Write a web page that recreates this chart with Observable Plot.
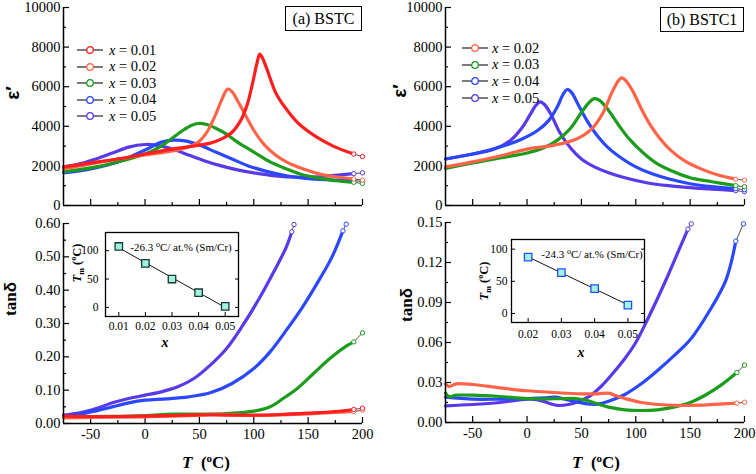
<!DOCTYPE html>
<html><head><meta charset="utf-8">
<script src="https://cdn.jsdelivr.net/npm/d3@7"></script>
<script src="https://cdn.jsdelivr.net/npm/@observablehq/plot@0.6"></script>
<style>
body{margin:0;background:#fff;}
#root{position:relative;width:756px;height:474px;overflow:hidden;font-family:"Liberation Serif","Times New Roman",serif;color:#000;background:#fff;}
.lbl{position:absolute;white-space:nowrap;line-height:1;}
#root svg text{font-family:"Liberation Serif","Times New Roman",serif !important;fill:#000;}
#root svg.mainp text{font-size:14.5px !important;}
#root svg.insp text{font-size:11.5px !important;}
</style></head><body><div id="root"></div>
<script>
// ---------------- DATA ----------------
const xDomain = [-75, 200];
const xMajor = [-50, 0, 50, 100, 150, 200];
const xMinor = [-25, 25, 75, 125, 175];

// (a) BSTC  dielectric constant eps'
const epsA_001 = [[-75,1950],[-50,2150],[-25,2350],[0,2600],[25,2850],[50,3050],[60,3150],[70,3350],[80,3700],[88,4300],[94,5100],[99,6200],[103,7200],[105.5,7650],[108,7450],[112,6900],[121,5600],[133,4650],[143,4050],[158,3450],[173,3000],[192,2600],[200,2470]];
const epsA_002 = [[-75,1850],[-50,2100],[-25,2350],[0,2550],[25,2750],[40,2950],[50,3250],[58,3800],[65,4600],[71,5400],[76,5880],[80,5750],[86,5200],[93,4500],[100,3800],[110,3050],[120,2550],[130,2200],[145,1850],[160,1600],[175,1450],[192,1340],[200,1280]];
const epsA_003 = [[-75,1700],[-50,1900],[-25,2200],[0,2600],[15,3000],[25,3400],[35,3800],[43,4050],[49,4140],[56,4100],[65,3900],[75,3600],[85,3200],[100,2700],[115,2200],[130,1850],[145,1550],[160,1380],[175,1250],[192,1170],[200,1110]];
const epsA_004 = [[-75,1650],[-50,1850],[-25,2200],[0,2800],[15,3200],[26,3300],[38,3250],[50,3050],[65,2700],[80,2350],[95,2000],[110,1750],[130,1500],[150,1350],[170,1300],[192,1270],[200,1200]];
const epsA_005 = [[-75,1950],[-60,2100],[-45,2350],[-30,2650],[-15,2950],[0,3080],[10,3050],[25,2850],[40,2550],[55,2250],[70,2000],[85,1800],[100,1650],[120,1500],[140,1430],[160,1450],[180,1550],[192,1610],[200,1650]];

// (a) BSTC  tan delta
const tanA_001 = [[-75,0.022],[-50,0.021],[-25,0.021],[0,0.022],[25,0.024],[50,0.026],[75,0.025],[100,0.025],[125,0.027],[150,0.031],[175,0.036],[192,0.042],[200,0.046]];
const tanA_002 = [[-75,0.017],[-50,0.018],[-25,0.019],[0,0.020],[25,0.022],[50,0.025],[65,0.028],[80,0.026],[100,0.024],[125,0.026],[150,0.029],[175,0.033],[192,0.036],[200,0.040]];
const tanA_003 = [[-75,0.018],[-50,0.020],[0,0.024],[25,0.028],[50,0.028],[75,0.030],[100,0.037],[115,0.050],[127,0.075],[140,0.105],[155,0.150],[170,0.195],[185,0.232],[192,0.245],[200,0.272]];
const tanA_004 = [[-75,0.022],[-60,0.028],[-45,0.038],[-30,0.050],[-15,0.062],[0,0.070],[20,0.074],[40,0.080],[60,0.092],[80,0.120],[100,0.165],[115,0.215],[130,0.280],[145,0.350],[160,0.430],[172,0.500],[182,0.578],[185,0.598]];
const tanA_005 = [[-75,0.025],[-60,0.032],[-45,0.045],[-30,0.062],[-15,0.075],[0,0.085],[15,0.095],[30,0.110],[45,0.135],[60,0.175],[75,0.225],[90,0.295],[105,0.375],[120,0.465],[130,0.530],[135,0.575],[137,0.597]];

// (b) BSTC1 eps'
const epsB_002 = [[-75,1950],[-50,2200],[-25,2500],[0,2850],[25,3050],[45,3350],[60,3900],[70,4700],[78,5700],[84,6300],[87,6450],[91,6300],[97,5800],[105,4900],[113,4100],[122,3400],[132,2800],[145,2250],[160,1850],[175,1550],[192,1330],[200,1280]];
const epsB_003 = [[-75,1870],[-50,2150],[-25,2400],[0,2650],[15,2900],[28,3300],[40,3900],[50,4700],[57,5200],[62,5400],[67,5300],[75,4800],[85,4000],[95,3300],[108,2600],[120,2100],[135,1700],[150,1400],[170,1200],[192,1000],[200,950]];
const epsB_004 = [[-75,2350],[-50,2600],[-25,2950],[-5,3350],[10,3800],[20,4300],[28,5000],[33,5600],[37,5860],[41,5700],[47,5100],[55,4300],[65,3500],[75,2900],[88,2350],[100,1950],[115,1600],[130,1350],[150,1100],[170,950],[192,850],[200,800]];
const epsB_005 = [[-75,2350],[-50,2600],[-30,2850],[-15,3300],[-5,3900],[3,4600],[8,5050],[12,5230],[16,5100],[22,4600],[30,3700],[40,2900],[50,2350],[62,1950],[75,1650],[90,1400],[110,1150],[130,1000],[150,900],[170,830],[192,750],[200,700]];

// (b) BSTC1 tan delta
const tanB_002 = [[-75,0.029],[-72,0.027],[-65,0.029],[-50,0.0285],[-25,0.026],[0,0.0238],[25,0.0225],[50,0.0215],[65,0.0215],[75,0.022],[82,0.020],[92,0.0175],[105,0.015],[120,0.0135],[140,0.0128],[160,0.013],[180,0.014],[193,0.0145],[200,0.0152]];
const tanB_003 = [[-75,0.022],[-72,0.0195],[-65,0.0205],[-50,0.0205],[-25,0.0195],[0,0.018],[25,0.0178],[45,0.018],[55,0.0165],[65,0.014],[75,0.0115],[90,0.0095],[105,0.009],[120,0.0095],[135,0.0115],[150,0.015],[165,0.021],[180,0.029],[193,0.0375],[200,0.043]];
const tanB_004 = [[-75,0.019],[-50,0.0175],[-25,0.0175],[0,0.0178],[15,0.0185],[27,0.019],[35,0.0175],[45,0.0155],[55,0.014],[65,0.0138],[75,0.016],[90,0.021],[105,0.029],[120,0.039],[135,0.050],[150,0.062],[168,0.084],[183,0.107],[192,0.136],[199,0.149]];
const tanB_005 = [[-75,0.0125],[-50,0.0135],[-25,0.015],[0,0.0175],[10,0.017],[20,0.0145],[28,0.0128],[38,0.0135],[48,0.016],[58,0.020],[68,0.027],[78,0.036],[90,0.048],[100,0.060],[110,0.076],[120,0.093],[130,0.111],[140,0.130],[148,0.145],[151,0.149]];

// insets: Tm vs x
const insetA_x = [0.01, 0.02, 0.03, 0.04, 0.05];
const insetA_Tm = [107.4, 77.5, 50.0, 25.9, 1.8];
const insetB_x = [0.02, 0.03, 0.04, 0.05];
const insetB_Tm = [87.5, 63.6, 38.6, 13.1];

const labelsA = ["0.01", "0.02", "0.03", "0.04", "0.05"];
const labelsB = ["0.02", "0.03", "0.04", "0.05"];
const colorMap = {"0.01": "#ff1e1e", "0.02": "#ff6448", "0.03": "#1c9c1c", "0.04": "#2b48ff", "0.05": "#5a3ae8"};

// ---------------- DRAWING ----------------
const root = document.getElementById("root");
const X = d => d[0], Y = d => d[1];

function place(el, left, top) {
  el.style.position = "absolute";
  el.style.left = left + "px";
  el.style.top = top + "px";
  root.appendChild(el);
}
function label(html, cx, cy, css, rotate) {
  const d = document.createElement("div");
  d.className = "lbl";
  d.innerHTML = html;
  d.style.left = cx + "px";
  d.style.top = cy + "px";
  d.style.transform = "translate(-50%,-50%)" + (rotate ? " rotate(-90deg)" : "");
  Object.assign(d.style, css);
  root.appendChild(d);
}

function mainPanel({series, yDomain, yMajor, yMinor, yFmt, showX, left, top, width, height, ml, mr, mt, mb}) {
  const marks = [
    Plot.axisX({ticks: xMinor, tickSize: -3, tickFormat: () => "", label: null, strokeWidth: 1.2}),
    Plot.axisX({ticks: xMajor, tickSize: -6, tickPadding: 11, tickFormat: showX ? (d => String(d)) : (() => ""), label: null, strokeWidth: 1.2}),
    Plot.axisY({ticks: yMinor, tickSize: -3, tickFormat: () => "", label: null, strokeWidth: 1.2}),
    Plot.axisY({ticks: yMajor, tickSize: -6, tickPadding: 9, tickFormat: yFmt, label: null, strokeWidth: 1.2})
  ];
  for (const s of series) {
    marks.push(Plot.line(s.data.slice(0, -1), {x: X, y: Y, stroke: s.color, strokeWidth: 3.2, curve: "catmull-rom"}));
  }
  for (const s of series) {
    const end = s.data.slice(-2);
    marks.push(Plot.line(end, {x: X, y: Y, stroke: "#222", strokeWidth: 0.8}));
    marks.push(Plot.dot(end, {x: X, y: Y, r: 2.2, stroke: s.color, fill: "white", strokeWidth: 1}));
  }
  marks.push(Plot.ruleX([xDomain[0]], {strokeWidth: 1.5}));
  marks.push(Plot.ruleY([yDomain[0]], {strokeWidth: 1.5}));
  const svg = Plot.plot({
    width, height, marginLeft: ml, marginRight: mr, marginTop: mt, marginBottom: mb,
    x: {domain: xDomain}, y: {domain: yDomain},
    style: {background: "transparent", color: "#000", overflow: "visible"},
    marks
  });
  svg.classList.add("mainp");
  place(svg, left, top);
}

function inset({xs, ys, xDom, yDom, xTicks, edge, left, top, width, height, ml, mr, mt, mb, ypad, xpad}) {
  const pts = xs.map((x, i) => [x, ys[i]]);
  const svg = Plot.plot({
    width, height, marginLeft: ml, marginRight: mr, marginTop: mt, marginBottom: mb,
    x: {domain: xDom}, y: {domain: yDom},
    style: {background: "transparent", color: "#000", overflow: "visible"},
    marks: [
      Plot.axisX({ticks: xTicks, tickSize: -4, tickPadding: xpad, tickFormat: d3.format(".2f"), label: null}),
      Plot.axisY({ticks: [0, 50, 100], tickSize: -4, tickPadding: ypad, tickFormat: d => String(d), label: null}),
      Plot.axisY({ticks: [0, 50, 100], anchor: "right", tickSize: -4, tickFormat: () => "", label: null}),
      Plot.frame({strokeWidth: 1.3}),
      Plot.linearRegressionY(pts, {x: X, y: Y, stroke: "#111", strokeWidth: 1, ci: 0}),
      Plot.dot(pts, {x: X, y: Y, symbol: "square", r: 4.2, fill: "#a4f2da", stroke: edge, strokeWidth: 1.3})
    ]
  });
  svg.classList.add("insp");
  place(svg, left, top);
}

const seriesOf = (labels, arrays) => labels.map((l, i) => ({label: l, color: colorMap[l], data: arrays[i]})).reverse();

// Panel (a) top
mainPanel({series: seriesOf(labelsA, [epsA_001, epsA_002, epsA_003, epsA_004, epsA_005]),
  yDomain: [0, 10000], yMajor: [0, 2000, 4000, 6000, 8000, 10000], yMinor: [1000, 3000, 5000, 7000, 9000],
  yFmt: d => String(d), showX: false, left: 0, top: 0, width: 378, height: 215, ml: 63, mr: 16, mt: 7, mb: 10});
// Panel (a) bottom
mainPanel({series: seriesOf(labelsA, [tanA_001, tanA_002, tanA_003, tanA_004, tanA_005]),
  yDomain: [0, 0.6], yMajor: [0, 0.1, 0.2, 0.3, 0.4, 0.5, 0.6], yMinor: [0.05, 0.15, 0.25, 0.35, 0.45, 0.55],
  yFmt: d3.format(".2f"), showX: true, left: 0, top: 215, width: 378, height: 259, ml: 63, mr: 16, mt: 8, mb: 51});
// Panel (b) top
mainPanel({series: seriesOf(labelsB, [epsB_002, epsB_003, epsB_004, epsB_005]),
  yDomain: [0, 10000], yMajor: [0, 2000, 4000, 6000, 8000, 10000], yMinor: [1000, 3000, 5000, 7000, 9000],
  yFmt: d => String(d), showX: false, left: 378, top: 0, width: 378, height: 215, ml: 67, mr: 12, mt: 7, mb: 10});
// Panel (b) bottom
mainPanel({series: seriesOf(labelsB, [tanB_002, tanB_003, tanB_004, tanB_005]),
  yDomain: [0, 0.15], yMajor: [0, 0.03, 0.06, 0.09, 0.12, 0.15], yMinor: [0.015, 0.045, 0.075, 0.105, 0.135],
  yFmt: d3.format(".2f"), showX: true, left: 378, top: 215, width: 378, height: 259, ml: 67, mr: 12, mt: 7, mb: 52});

// insets
inset({xs: insetA_x, ys: insetA_Tm, xDom: [0.005, 0.055], yDom: [-16, 132], xTicks: insetA_x, edge: "#123a3a",
  left: 70, top: 228, width: 175, height: 110, ml: 35, mr: 7, mt: 4, mb: 22, ypad: 11, xpad: 9});
inset({xs: insetB_x, ys: insetB_Tm, xDom: [0.015, 0.055], yDom: [-14, 115], xTicks: insetB_x, edge: "#2050ff",
  left: 475, top: 235, width: 175, height: 110, ml: 36, mr: 6, mt: 4, mb: 23, ypad: 8, xpad: 11});

// axis titles
const epsCss = {fontFamily: "'Liberation Sans', Arial, sans-serif", fontWeight: "bold", fontSize: "19px"};
const tanCss = {fontFamily: "'Liberation Serif', 'Times New Roman', serif", fontWeight: "bold", fontSize: "17px"};
const tCss = {fontFamily: "'Liberation Serif', 'Times New Roman', serif", fontWeight: "bold", fontSize: "17px"};
label("ε′", 12, 93, epsCss, true);
label("ε′", 399, 91, epsCss, true);
label("tan<span style=\"font-family:'Liberation Sans',sans-serif\">δ</span>", 10, 299, tanCss, true);
label("tan<span style=\"font-family:'Liberation Sans',sans-serif\">δ</span>", 406, 305, tanCss, true);
label("<i>T</i>&nbsp;&nbsp;(<sup style='font-size:11px'>o</sup>C)", 206, 462, tCss, false);
label("<i>T</i>&nbsp;&nbsp;(<sup style='font-size:11px'>o</sup>C)", 596, 462, tCss, false);

// panel titles
function box(text, l, t, w, h) {
  const d = document.createElement("div");
  d.className = "lbl";
  d.textContent = text;
  Object.assign(d.style, {left: l + "px", top: t + "px", width: w + "px", height: h + "px", border: "1.2px solid #000",
    boxSizing: "border-box", fontSize: "16px", display: "flex", alignItems: "center", justifyContent: "center", background: "#fff"});
  root.appendChild(d);
}
box("(a) BSTC", 285, 6, 77, 25);
box("(b) BSTC1", 660, 7, 84, 25);

// legends
function legend(labels, lineX, yRows, textX) {
  labels.forEach((l, i) => {
    const y = yRows[i];
    const s = document.createElementNS("http://www.w3.org/2000/svg", "svg");
    s.setAttribute("width", 28); s.setAttribute("height", 10);
    s.innerHTML = `<line x1="1" y1="5" x2="27" y2="5" stroke="#222" stroke-width="1.2"/><circle cx="14" cy="5" r="3.3" fill="#fff" stroke="${colorMap[l]}" stroke-width="1.3"/>`;
    place(s, lineX, y - 5);
    const t = document.createElement("div");
    t.className = "lbl";
    t.innerHTML = `<i>x</i> = ${l}`;
    Object.assign(t.style, {left: textX + "px", top: (y - 7.5) + "px", fontSize: "14.5px"});
    root.appendChild(t);
  });
}
legend(labelsA, 76, [50, 66.5, 83, 99.5, 116], 109);
legend(labelsB, 461, [48.3, 64.7, 81.2, 98], 492);

// inset annotations
const insCss = {fontSize: "11px"};
label("-26.3 <sup style='font-size:8px'>o</sup>C/ at.% (Sm/Cr)", 181, 247, insCss, false);
label("-24.3 <sup style='font-size:8px'>o</sup>C/ at.% (Sm/Cr)", 592, 254, insCss, false);
const tmCss = {fontSize: "12.5px", fontWeight: "bold"};
label("<i>T</i><sub style='font-size:8px'>m</sub> (<sup style='font-size:8px'>o</sup>C)", 78, 263, tmCss, true);
label("<i>T</i><sub style='font-size:8px'>m</sub> (<sup style='font-size:8px'>o</sup>C)", 485, 281, tmCss, true);
const xCss = {fontSize: "14px", fontStyle: "italic", fontWeight: "bold"};
label("x", 165, 343, xCss, false);
label("x", 581, 353, xCss, false);
</script></body></html>
